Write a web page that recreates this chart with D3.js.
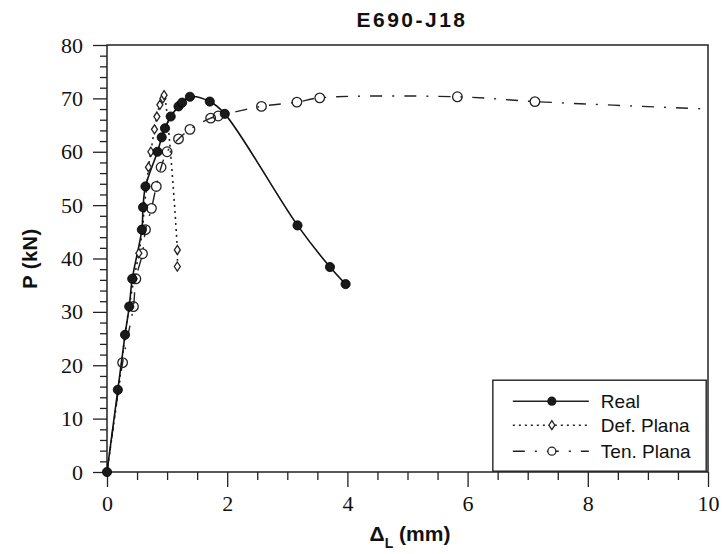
<!DOCTYPE html>
<html>
<head>
<meta charset="utf-8">
<script src="https://cdn.jsdelivr.net/npm/d3@7"></script>
<style>
  html, body { margin: 0; padding: 0; background: #fff; }
  svg { display: block; }
</style>
</head>
<body>
<svg id="chart" width="724" height="554"></svg>
<script>
// [desplazamiento mm, carga kN]
const realData = [
  [0, 0], [0.18, 15.4], [0.30, 25.7], [0.37, 31.0], [0.42, 36.2], [0.58, 45.4],
  [0.60, 49.6], [0.64, 53.5], [0.84, 60.0], [0.91, 62.7], [0.965, 64.4],
  [1.06, 66.6], [1.19, 68.5], [1.25, 69.2], [1.38, 70.3], [1.71, 69.4],
  [1.96, 67.1], [3.17, 46.2], [3.71, 38.4], [3.97, 35.2],
];
const defPlanaData = [
  [0, 0], [0.19, 15.4], [0.30, 25.7], [0.37, 31.0], [0.45, 36.2], [0.53, 41.0],
  [0.59, 45.4], [0.62, 49.6], [0.66, 53.5], [0.69, 57.1], [0.73, 60.0],
  [0.79, 64.2], [0.83, 66.6], [0.88, 68.8], [0.93, 70.0], [0.95, 70.6],
  [1.17, 41.6], [1.17, 38.5],
];
const tenPlanaData = [
  [0, 0], [0.26, 20.5], [0.44, 31.0], [0.48, 36.2], [0.59, 40.9], [0.64, 45.4],
  [0.74, 49.4], [0.82, 53.5], [0.90, 57.1], [1.00, 60.0], [1.19, 62.4],
  [1.38, 64.2], [1.725, 66.3], [1.85, 66.7], [2.57, 68.5], [3.16, 69.3],
  [3.54, 70.1], [5.83, 70.3], [7.12, 69.4],
];
// la curva continua sin marcador hasta el borde
const tenPlanaTail = [10, 68.0];

const xTicks = [0, 2, 4, 6, 8, 10];
const yTicks = [0, 10, 20, 30, 40, 50, 60, 70, 80];
const legendLabels = ["Real", "Def. Plana", "Ten. Plana"];

const margin = { top: 45, right: 16, bottom: 82, left: 107 };
const width = 724;
const height = 554;
const plotW = width - margin.left - margin.right;
const plotH = height - margin.top - margin.bottom;

const svg = d3.select("#chart");
const g = svg.append("g").attr("transform", `translate(${margin.left},${margin.top})`);

const x = d3.scaleLinear().domain([0, 10]).range([0, plotW]);
const y = d3.scaleLinear().domain([0, 80]).range([plotH, 0]);

const serif = "'Liberation Serif', 'DejaVu Serif', serif";
const sans = "'Liberation Sans', Arial, sans-serif";

// ejes
const xMinor = d3.range(0, 10.01, 0.5).filter((v) => !xTicks.includes(v));
const yMinor = d3.range(0, 80.1, 2).filter((v) => !yTicks.includes(v));

g.append("g")
  .attr("transform", `translate(0,${plotH})`)
  .call(d3.axisBottom(x).tickValues(xMinor).tickSize(8).tickFormat(""))
  .call((ax) => ax.select(".domain").remove());
g.append("g")
  .attr("transform", `translate(0,${plotH})`)
  .call(d3.axisBottom(x).tickValues(xTicks).tickSize(15).tickPadding(8).tickFormat(d3.format("d")))
  .call((ax) => ax.select(".domain").remove())
  .call((ax) => ax.selectAll("text").attr("font-family", serif).attr("font-size", 22).attr("fill", "#111"));

g.append("g")
  .call(d3.axisLeft(y).tickValues(yMinor).tickSize(7).tickFormat(""))
  .call((ax) => ax.select(".domain").remove());
g.append("g")
  .call(d3.axisLeft(y).tickValues(yTicks).tickSize(14).tickPadding(10).tickFormat(d3.format("d")))
  .call((ax) => ax.select(".domain").remove())
  .call((ax) => ax.selectAll("text").attr("font-family", serif).attr("font-size", 22).attr("fill", "#111"));

g.selectAll(".tick line").attr("stroke", "#222").attr("stroke-width", 1.3);

g.append("rect")
  .attr("width", plotW)
  .attr("height", plotH)
  .attr("fill", "none")
  .attr("stroke", "#222")
  .attr("stroke-width", 1.5);

// curvas
const line = d3.line()
  .x((d) => x(d[0]))
  .y((d) => y(d[1]))
  .curve(d3.curveCatmullRom.alpha(0.5));

const tenDash = "12,10,2,10";
const defDash = "2,4";

g.append("path")
  .datum([...tenPlanaData, tenPlanaTail])
  .attr("d", line)
  .attr("fill", "none")
  .attr("stroke", "#222")
  .attr("stroke-width", 1.4)
  .attr("stroke-dasharray", tenDash);

g.append("path")
  .datum(defPlanaData)
  .attr("d", line)
  .attr("fill", "none")
  .attr("stroke", "#222")
  .attr("stroke-width", 1.6)
  .attr("stroke-dasharray", defDash);

g.append("path")
  .datum(realData)
  .attr("d", line)
  .attr("fill", "none")
  .attr("stroke", "#111")
  .attr("stroke-width", 1.6);

// marcadores
const diamond = "M0,-4.5L3,0L0,4.5L-3,0Z";

g.selectAll("circle.ten")
  .data(tenPlanaData.slice(1))
  .join("circle")
  .attr("class", "ten")
  .attr("cx", (d) => x(d[0]))
  .attr("cy", (d) => y(d[1]))
  .attr("r", 4.8)
  .attr("fill", "none")
  .attr("stroke", "#222")
  .attr("stroke-width", 1.3);

g.selectAll("path.def")
  .data(defPlanaData.slice(1))
  .join("path")
  .attr("class", "def")
  .attr("d", diamond)
  .attr("transform", (d) => `translate(${x(d[0])},${y(d[1])})`)
  .attr("fill", "#fff")
  .attr("stroke", "#222")
  .attr("stroke-width", 1.3);

g.selectAll("circle.real")
  .data(realData)
  .join("circle")
  .attr("class", "real")
  .attr("cx", (d) => x(d[0]))
  .attr("cy", (d) => y(d[1]))
  .attr("r", 4.6)
  .attr("fill", "#1a1a1a")
  .attr("stroke", "#000")
  .attr("stroke-width", 0.8);

// leyenda
const legend = g.append("g").attr("transform", `translate(${x(6.42)},${y(17.2)})`);
legend.append("rect")
  .attr("width", x(9.97) - x(6.42))
  .attr("height", y(0.15) - y(17.2))
  .attr("fill", "#fff")
  .attr("stroke", "#222")
  .attr("stroke-width", 1.4);

const rowY = [21, 45, 71];
const rows = legend.selectAll("g.row")
  .data(legendLabels)
  .join("g")
  .attr("class", "row")
  .attr("transform", (d, i) => `translate(0,${rowY[i]})`);

rows.append("line")
  .attr("x1", 20).attr("x2", 96)
  .attr("stroke", "#222")
  .attr("stroke-width", 1.4)
  .attr("stroke-dasharray", (d, i) => [null, defDash, tenDash][i]);

rows.each(function (d, i) {
  const r = d3.select(this);
  if (i === 0) {
    r.append("circle").attr("cx", 59).attr("r", 4.6).attr("fill", "#1a1a1a");
  } else if (i === 1) {
    r.append("path").attr("d", diamond).attr("transform", "translate(59,0)")
      .attr("fill", "#fff").attr("stroke", "#222").attr("stroke-width", 1.3);
  } else {
    r.append("circle").attr("cx", 59).attr("r", 4).attr("fill", "#fff")
      .attr("stroke", "#222").attr("stroke-width", 1.3);
  }
});

rows.append("text")
  .attr("x", 108)
  .attr("dy", "0.35em")
  .attr("font-family", sans)
  .attr("font-size", 19)
  .attr("fill", "#111")
  .text((d) => d);

// títulos
svg.append("text")
  .attr("x", 412)
  .attr("y", 27)
  .attr("text-anchor", "middle")
  .attr("font-family", sans)
  .attr("font-weight", "bold")
  .attr("font-size", 21)
  .attr("letter-spacing", 2.5)
  .attr("fill", "#111")
  .text("E690-J18");

svg.append("text")
  .attr("transform", `translate(37,${margin.top + plotH / 2}) rotate(-90)`)
  .attr("text-anchor", "middle")
  .attr("font-family", sans)
  .attr("font-weight", "bold")
  .attr("font-size", 20)
  .attr("letter-spacing", 0.5)
  .attr("fill", "#111")
  .text("P (kN)");

const xLabel = svg.append("text")
  .attr("x", 410)
  .attr("y", 541)
  .attr("text-anchor", "middle")
  .attr("font-family", sans)
  .attr("font-weight", "bold")
  .attr("font-size", 21)
  .attr("fill", "#111");
xLabel.append("tspan").text("Δ");
xLabel.append("tspan").attr("dy", 7).attr("font-size", 14).text("L");
xLabel.append("tspan").attr("dy", -7).text(" (mm)");
</script>
</body>
</html>
